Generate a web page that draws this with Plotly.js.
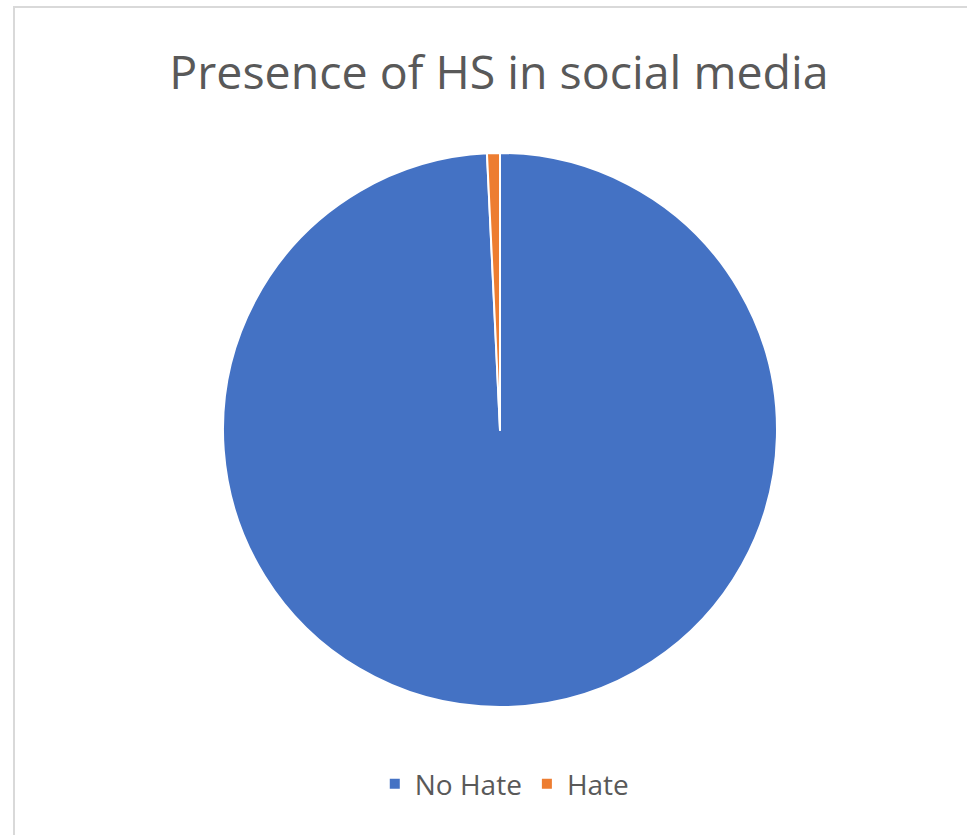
<!DOCTYPE html>
<html>
<head>
<meta charset="utf-8">
<script src="https://cdn.plot.ly/plotly-3.0.1.min.js"></script>
<style>
  html, body { margin: 0; padding: 0; background: #fff; }
  #wrap { position: relative; width: 967px; height: 835px; overflow: hidden; }
  #frame { position: absolute; left: 13px; top: 6px; width: 980px; height: 860px; border: 2px solid #d9d9d9; box-sizing: border-box; pointer-events: none; }
  #chart { position: absolute; left: 0; top: 0; width: 967px; height: 835px; }
</style>
</head>
<body>
<div id="wrap">
  <div id="chart"></div>
  <div id="frame"></div>
</div>
<script>
const chartTitle = "Presence of HS in social media";
const categories = ["No Hate", "Hate"];
const values = [99.25, 0.75];
const colors = ["#4472C4", "#ED7D31"];

const trace = {
  type: "pie",
  labels: categories,
  values: values,
  sort: false,
  direction: "clockwise",
  rotation: 0,
  textinfo: "none",
  hoverinfo: "label+percent",
  marker: { colors: colors, line: { color: "#ffffff", width: 2 } },
  domain: { x: [223/967, 777/967], y: [128/835, 682/835] }
};

const layout = {
  width: 967,
  height: 835,
  margin: { l: 0, r: 0, t: 0, b: 0 },
  paper_bgcolor: "#ffffff",
  font: { family: "Open Sans, sans-serif", color: "#595959" },
  title: {
    text: chartTitle,
    font: { size: 46.5, color: "#595959", family: "Open Sans, sans-serif" },
    x: 0.516, xanchor: "center",
    y: 1 - 73/835, yanchor: "middle",
    xref: "paper", yref: "paper"
  },
  showlegend: true,
  legend: {
    orientation: "h",
    x: 0.522, xanchor: "center",
    y: 1 - 784/835, yanchor: "middle",
    font: { size: 28, color: "#595959" },
    itemwidth: 30
  }
};

Plotly.newPlot("chart", [trace], layout, { displayModeBar: false, staticPlot: true });
</script>
</body>
</html>
